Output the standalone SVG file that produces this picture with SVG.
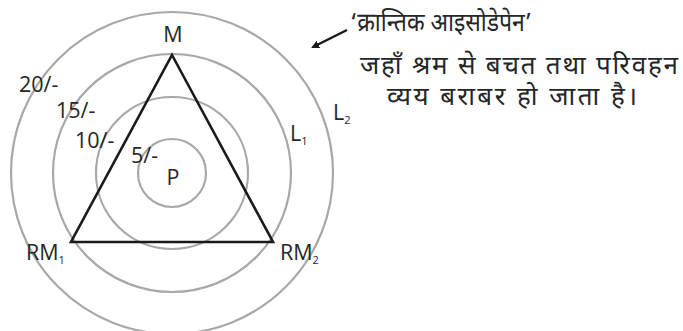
<svg xmlns="http://www.w3.org/2000/svg" width="683" height="331" viewBox="0 0 683 331">
<style>
.ring{fill:none;stroke:#a8a8a8;stroke-width:2.2}
.tri{fill:none;stroke:#1a1a1a;stroke-width:2.6;stroke-linejoin:miter}
.lbl{font-family:"Open Sans","Noto Sans","Liberation Sans",sans-serif;font-size:21.5px;fill:#262626}
.sub{font-size:11px}
.hi{font-family:"Noto Sans Devanagari","Noto Sans","Lohit Devanagari","FreeSans",sans-serif;font-size:26px;fill:#262626}
.arr{fill:none;stroke:#1a1a1a;stroke-width:2.4}
</style>
<defs>
<marker id="ah" markerWidth="8" markerHeight="8" refX="6" refY="4" orient="auto" markerUnits="userSpaceOnUse"><path d="M0,0 L8,4 L0,8 Z" fill="#1a1a1a"/></marker>
</defs>
<rect width="683" height="331" fill="#fff"/>
<g id="rings">
<circle class="ring" cx="172" cy="173" r="34"/>
<circle class="ring" cx="172" cy="173" r="76"/>
<circle class="ring" cx="172" cy="173" r="119"/>
<circle class="ring" cx="172" cy="173" r="161"/>
</g>
<g id="triangle"><path class="tri" d="M172,55 L273,242 L71,242 Z"/></g>
<g id="connectors"><path class="arr" d="M347,30 L313,47" marker-end="url(#ah)"/></g>
<g id="node-M"><text class="lbl" x="173" y="42" text-anchor="middle">M</text></g>
<g id="node-P"><text class="lbl" x="173" y="185" text-anchor="middle">P</text></g>
<g id="node-RM1"><text class="lbl" x="26" y="260">RM<tspan class="sub" dy="4">1</tspan></text></g>
<g id="node-RM2"><text class="lbl" x="280" y="260">RM<tspan class="sub" dy="4">2</tspan></text></g>
<g id="node-L1"><text class="lbl" x="290" y="141">L<tspan class="sub" dy="4">1</tspan></text></g>
<g id="node-L2"><text class="lbl" x="333" y="120">L<tspan class="sub" dy="4">2</tspan></text></g>
<g id="costs">
<text class="lbl" x="19" y="92">20/-</text>
<text class="lbl" x="56" y="118">15/-</text>
<text class="lbl" x="75" y="148">10/-</text>
<text class="lbl" x="131" y="163">5/-</text>
</g>
<g id="note">
<text class="hi" x="350" y="31" textLength="182" lengthAdjust="spacingAndGlyphs">‘क्रान्तिक आइसोडेपेन’</text>
<text class="hi" x="360" y="74" textLength="318" lengthAdjust="spacing">जहाँ श्रम से बचत तथा परिवहन</text>
<text class="hi" x="387" y="105" textLength="250" lengthAdjust="spacing">व्यय बराबर हो जाता है।</text>
</g>
</svg>
